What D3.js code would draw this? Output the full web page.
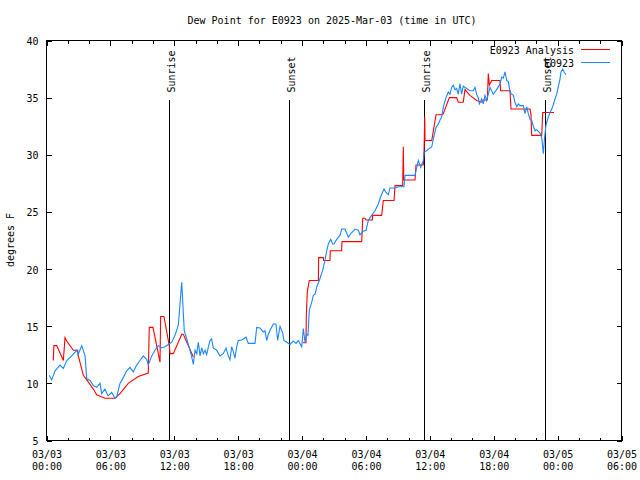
<!DOCTYPE html>
<html><head><meta charset="utf-8">
<script src="https://cdn.jsdelivr.net/npm/d3@7"></script>
<style>
body{margin:0;background:#fff}
svg{display:block}
text{font-family:"DejaVu Sans Mono","Liberation Mono",monospace;font-size:10px;fill:#000}
</style></head><body>
<svg id="c" width="640" height="480"></svg>
<script>
// ---- data (hours since 2025-03-03 00:00 UTC) ----
const obsHours=[0.26,0.49,0.80,1.27,1.58,1.90,2.37,2.84,2.96,3.31,3.62,3.78,4.09,4.40,4.71,5.02,5.18,5.49,5.78,6.12,6.43,6.59,6.90,7.21,7.53,7.84,8.15,8.47,8.78,9.09,9.41,9.56,9.88,10.19,10.50,10.82,11.13,11.44,11.76,12.07,12.38,12.54,12.70,12.85,12.94,13.17,13.48,13.64,13.79,13.95,14.11,14.26,14.42,14.58,14.73,14.89,15.04,15.20,15.35,15.51,15.66,15.98,16.29,16.60,16.86,17.07,17.23,17.39,17.54,17.70,17.86,18.01,18.33,18.74,18.95,19.58,19.74,20.05,20.36,20.52,20.68,20.83,21.06,21.30,21.55,21.71,21.93,22.18,22.30,22.56,22.87,23.18,23.43,23.65,23.97,24.12,24.28,24.44,24.56,24.68,24.91,25.06,25.22,25.40,25.62,25.94,26.15,26.31,26.47,26.69,26.88,27.00,27.25,27.56,27.72,28.03,28.34,28.66,28.97,29.28,29.44,29.70,30.01,30.22,30.54,30.85,31.16,31.39,31.70,31.88,32.10,32.26,32.73,33.04,33.57,33.67,34.61,34.70,34.92,35.14,35.39,35.45,36.18,36.33,36.58,36.80,36.96,37.11,37.27,37.52,37.73,37.89,38.05,38.20,38.36,38.52,38.67,38.83,38.99,39.14,39.46,39.77,40.08,40.24,40.40,40.55,40.65,40.87,41.02,41.18,41.34,41.49,41.65,41.96,42.28,42.59,42.75,42.90,43.06,43.22,43.37,43.53,43.69,43.84,44.00,44.16,44.31,44.47,44.78,44.94,45.10,45.25,45.41,45.57,45.72,45.88,46.03,46.35,46.51,46.66,46.75,46.88,46.97,47.13,47.29,47.45,47.60,47.76,47.91,48.10,48.22,48.32,48.48,48.63,48.79];
const obsValues=[10.7,10.3,11.1,11.6,11.3,12.0,12.4,12.9,12.5,13.3,12.4,10.4,10.25,9.8,9.66,10.0,9.1,9.5,8.9,9.2,8.7,8.8,10.0,10.5,11.1,11.4,11.0,11.6,12.0,12.4,12.1,11.6,12.4,12.9,13.3,13.1,13.2,13.4,13.6,14.2,15.1,17.0,18.85,16.1,14.6,13.9,12.9,12.3,11.65,12.9,12.6,13.6,12.4,13.1,12.6,12.9,12.5,13.2,13.75,13.9,13.1,12.9,12.4,12.6,13.1,12.4,12.06,13.2,12.8,12.2,13.2,13.75,13.8,14.04,13.5,13.5,14.9,14.85,14.5,14.6,13.75,14.3,14.75,15.2,15.2,13.75,15.0,14.4,13.75,13.6,13.4,13.7,13.5,13.75,13.2,14.8,13.6,14.3,14.2,16.4,17.1,17.7,17.8,18.5,19.0,19.9,20.75,21.6,22.2,22.6,22.2,22.2,22.6,22.94,23.5,23.5,22.8,23.2,23.5,23.4,23.0,23.3,23.4,24.25,24.7,25.1,25.7,26.35,27.0,26.7,26.5,27.1,27.1,27.2,27.2,28.2,28.2,28.6,29.5,28.9,29.5,30.2,30.7,31.4,32.4,32.7,33.05,33.3,34.2,35.0,35.5,35.3,35.9,36.1,35.7,35.8,35.3,36.2,35.3,36.0,35.8,35.6,35.6,35.9,35.3,35.0,34.45,34.9,34.45,35.2,34.75,35.3,35.9,35.3,35.7,36.2,36.8,36.7,37.25,36.5,36.4,35.5,35.3,35.2,34.6,34.2,34.45,34.3,34.3,33.6,34.2,33.6,33.1,33.0,32.5,32.1,32.2,31.9,31.5,30.1,31.2,32.4,32.85,33.3,33.7,34.0,34.4,34.9,35.3,36.1,36.6,37.25,37.5,37.2,37.0];
const anaHours=[0.64,0.69,0.96,1.58,1.74,1.90,2.52,2.93,2.99,3.46,3.78,4.40,4.71,5.49,6.43,6.90,7.68,8.62,9.56,9.65,10.00,10.66,10.72,11.03,11.53,11.60,11.91,12.70,12.85,13.79,19.0,24.06,24.37,24.40,24.49,24.68,25.53,25.56,26.00,26.02,26.62,26.65,27.72,27.75,29.60,29.70,29.91,30.01,30.60,30.63,31.48,31.63,32.64,32.73,33.45,33.51,33.55,34.61,34.70,35.39,35.45,35.52,35.55,36.18,36.58,37.11,37.27,37.83,38.52,38.67,39.14,39.30,39.77,40.40,40.87,41.02,41.40,41.49,41.59,41.81,42.59,42.65,43.53,43.62,45.41,45.50,45.57,46.51,46.60,47.66];
const anaValues=[12.0,13.3,13.3,12.0,14.0,13.7,12.9,12.9,12.4,10.7,10.3,9.5,9.0,8.7,8.7,9.1,10.0,10.6,10.9,14.9,14.9,11.85,15.85,15.85,13.3,12.6,12.6,14.3,14.3,12.3,null,13.55,13.55,15.8,18.0,19.0,19.0,21.0,21.0,20.75,20.75,21.6,21.6,22.4,22.4,24.45,24.45,24.3,24.3,24.7,24.7,26.0,26.0,27.3,27.3,30.7,27.8,27.8,29.1,29.1,30.0,33.35,31.25,31.25,33.5,33.5,33.6,35.0,35.0,34.6,34.6,35.7,35.2,34.75,34.6,34.8,34.8,37.1,36.1,36.5,36.5,35.6,35.6,34.0,34.0,33.5,31.7,31.7,33.7,33.7];
const sunHours=[11.53,22.80,35.48,46.84];
const sunLabels=["Sunrise","Sunset","Sunrise","Sunset"];
const seriesNames=["E0923 Analysis","E0923"];
const seriesColors=["#ff0000","#1a86ff"];
const yTicks=[5,10,15,20,25,30,35,40];
const xMajorHours=[0,6,12,18,24,30,36,42,48,54];
const xMinorHours=[2,4,8,10,14,16,20,22,26,28,32,34,38,40,44,46,50,52];
const titleText="Dew Point for E0923 on 2025-Mar-03 (time in UTC)";
const yLabel="degrees F";

// ---- layout ----
const start=Date.UTC(2025,2,3,0,0);
const H=3600000;
const toDate=h=>new Date(start+h*H);
const L=46.5,R=621.5,T=40.5,B=440.5;
const x=d3.scaleUtc().domain([toDate(0),toDate(54)]).range([L,R]);
const y=d3.scaleLinear().domain([5,40]).range([B,T]);
const svg=d3.select("#c");
svg.append("rect").attr("width",640).attr("height",480).attr("fill","#fff");

const fmtD=d3.utcFormat("%m/%d"), fmtT=d3.utcFormat("%H:%M");

// bottom axis major
const gB=svg.append("g").attr("transform",`translate(0,${B})`)
  .call(d3.axisBottom(x).tickValues(xMajorHours.map(toDate)).tickSize(-5).tickPadding(0).tickFormat(()=>""));
gB.selectAll(".tick").each(function(d){
  const t=d3.select(this).append("text").attr("text-anchor","middle").attr("fill","#000");
  t.append("tspan").attr("x",0).attr("y",17).text(fmtD(d));
  t.append("tspan").attr("x",0).attr("y",29).text(fmtT(d));
});
svg.append("g").attr("transform",`translate(0,${B})`)
  .call(d3.axisBottom(x).tickValues(xMinorHours.map(toDate)).tickSize(-3).tickFormat(()=>""));
// top mirror
svg.append("g").attr("transform",`translate(0,${T})`)
  .call(d3.axisTop(x).tickValues(xMajorHours.map(toDate)).tickSize(-5).tickFormat(()=>""));
svg.append("g").attr("transform",`translate(0,${T})`)
  .call(d3.axisTop(x).tickValues(xMinorHours.map(toDate)).tickSize(-3).tickFormat(()=>""));
// left axis
const gL=svg.append("g").attr("transform",`translate(${L},0)`)
  .call(d3.axisLeft(y).tickValues(yTicks).tickSize(-5).tickPadding(8).tickFormat(d3.format("d")));
gL.selectAll("text").attr("font-family",null).attr("font-size",null).attr("dy",null).attr("y",4).attr("x",-8);
// right mirror
svg.append("g").attr("transform",`translate(${R},0)`)
  .call(d3.axisRight(y).tickValues(yTicks).tickSize(-5).tickFormat(()=>""));
svg.selectAll(".domain").remove();
svg.selectAll(".tick line").attr("stroke","#000").attr("shape-rendering","crispEdges");
gB.selectAll("text").attr("font-family",null).attr("font-size",null);

// frame
svg.append("rect").attr("x",L).attr("y",T).attr("width",R-L).attr("height",B-T)
  .attr("fill","none").attr("stroke","#000").attr("shape-rendering","crispEdges");

// sunrise / sunset markers
sunHours.forEach((h,i)=>{
  const sx=Math.round(x(toDate(h)))+0.5;
  svg.append("line").attr("x1",sx).attr("x2",sx).attr("y1",y(34.8)).attr("y2",B)
    .attr("stroke","#000").attr("shape-rendering","crispEdges");
  svg.append("text").attr("transform",`translate(${sx+5},${y(35.45)}) rotate(-90)`)
    .attr("text-anchor","start").text(sunLabels[i]);
});

// series
const line=d3.line().defined(d=>d[1]!=null).x(d=>x(toDate(d[0]))).y(d=>y(d[1]));
const ana=anaHours.map((h,i)=>[h,anaValues[i]]);
const obs=obsHours.map((h,i)=>[h,obsValues[i]]);
svg.append("path").datum(ana).attr("d",line).attr("fill","none").attr("stroke",seriesColors[0]).attr("stroke-width",1.1);
svg.append("path").datum(obs).attr("d",line).attr("fill","none").attr("stroke",seriesColors[1]).attr("stroke-width",1.1);

// legend
seriesNames.forEach((n,i)=>{
  const ly=49.5+i*13;
  svg.append("text").attr("x",574).attr("y",ly+4).attr("text-anchor","end").text(n);
  svg.append("line").attr("x1",581).attr("x2",610).attr("y1",ly).attr("y2",ly)
    .attr("stroke",seriesColors[i]).attr("shape-rendering","crispEdges");
});

// title and y label
svg.append("text").attr("x",332).attr("y",24).attr("text-anchor","middle").text(titleText);
svg.append("text").attr("transform","translate(13.5,240) rotate(-90)").attr("text-anchor","middle").text(yLabel);
</script>
</body></html>
